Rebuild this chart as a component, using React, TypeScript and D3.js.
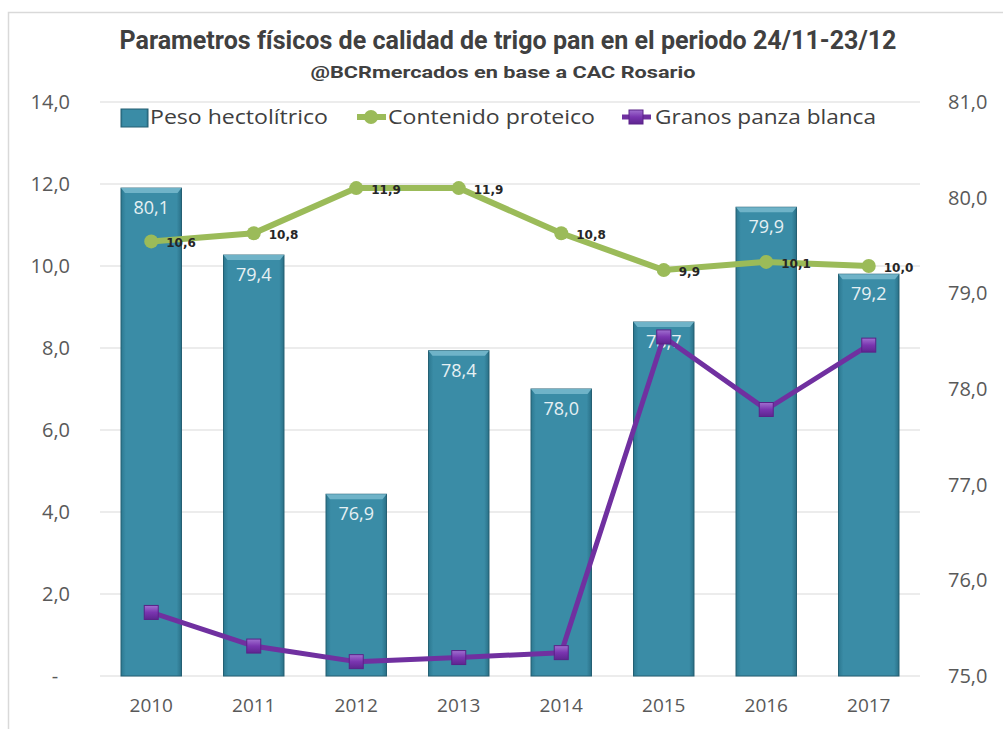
import React from "react";
import * as d3 from "d3";

const years = ["2010", "2011", "2012", "2013", "2014", "2015", "2016", "2017"];
const pesoHectolitrico = [80.1, 79.4, 76.9, 78.4, 78.0, 78.7, 79.9, 79.2];
const contenidoProteico = [10.6, 10.8, 11.9, 11.9, 10.8, 9.9, 10.1, 10.0];
const granosPanzaBlanca = [1.55, 0.73, 0.35, 0.45, 0.57, 8.27, 6.5, 8.07];
const leftTicks = [0, 2, 4, 6, 8, 10, 12, 14];
const rightTicks = [75, 76, 77, 78, 79, 80, 81];

const W = 1003;
const H = 729;
const plotLeft = 100;
const plotRight = 920;
const plotTop = 102;
const plotBottom = 676;

const fmt = (v: number) => d3.format(".1f")(v).replace(".", ",");

export default function App() {
  const x = d3
    .scaleBand<string>()
    .domain(years)
    .range([plotLeft, plotRight])
    .paddingInner(0.41)
    .paddingOuter(0.205);
  const yL = d3.scaleLinear().domain([0, 14]).range([plotBottom, plotTop]);
  const yR = d3.scaleLinear().domain([75, 81]).range([plotBottom, plotTop]);
  const cx = (y: string) => (x(y) as number) + x.bandwidth() / 2;

  const lineL = d3
    .line<number>()
    .x((_, i) => cx(years[i]))
    .y((d) => yL(d));

  const axisFont = "'Open Sans', 'DejaVu Sans', sans-serif";
  const textGray = "#595959";

  return (
    <svg
      width={W}
      height={H}
      viewBox={`0 0 ${W} ${H}`}
      style={{ position: "absolute", left: 0, top: 0, background: "#fff" }}
    >
      <defs>
        <linearGradient id="barGrad" x1="0" x2="1" y1="0" y2="0">
          <stop offset="0" stopColor="#2c7890" />
          <stop offset="0.08" stopColor="#3a8ca6" />
          <stop offset="0.92" stopColor="#3a8ca6" />
          <stop offset="1" stopColor="#2a7087" />
        </linearGradient>
        <linearGradient id="sqGrad" x1="0" x2="0" y1="0" y2="1">
          <stop offset="0" stopColor="#a070d0" />
          <stop offset="0.5" stopColor="#7a35b0" />
          <stop offset="1" stopColor="#5e2590" />
        </linearGradient>
      </defs>
      <rect x={0} y={0} width={W} height={H} fill="#fff" />
      <rect x={8.5} y={12.5} width={1000} height={730} fill="none" stroke="#d9d9d9" strokeWidth={1.5} />

      {/* Title */}
      <text
        x={508}
        y={49}
        textAnchor="middle"
        fontFamily="'Liberation Sans Narrow', 'Arial Narrow', 'Roboto', sans-serif"
        fontWeight="bold"
        fontSize={26}
        fill="#404040"
        textLength={777}
        lengthAdjust="spacingAndGlyphs"
      >
        Parametros físicos de calidad de trigo pan en el periodo 24/11-23/12
      </text>
      <text
        x={503}
        y={78}
        textAnchor="middle"
        fontFamily="'Liberation Sans Narrow', 'Arial Narrow', 'Roboto', sans-serif"
        fontWeight="bold"
        fontSize={17}
        fill="#404040"
        textLength={385}
        lengthAdjust="spacingAndGlyphs"
      >
        @BCRmercados en base a CAC Rosario
      </text>

      {/* Gridlines */}
      {leftTicks.map((t) => (
        <line
          key={"g" + t}
          x1={plotLeft}
          x2={plotRight}
          y1={yL(t)}
          y2={yL(t)}
          stroke="#d9d9d9"
          strokeWidth={1}
        />
      ))}

      {/* Left axis labels */}
      {leftTicks.map((t) => (
        <text
          key={"l" + t}
          x={t === 0 ? 55 : 70}
          y={yL(t) + 7}
          textAnchor={t === 0 ? "middle" : "end"}
          fontFamily={axisFont}
          fontSize={20}
          fill={textGray}
        >
          {t === 0 ? "-" : fmt(t)}
        </text>
      ))}

      {/* Right axis labels */}
      {rightTicks.map((t) => (
        <text
          key={"r" + t}
          x={948}
          y={yR(t) + 7}
          textAnchor="start"
          fontFamily={axisFont}
          fontSize={20}
          fill={textGray}
        >
          {fmt(t)}
        </text>
      ))}

      {/* X labels */}
      {years.map((y) => (
        <text
          key={"x" + y}
          x={cx(y)}
          y={712}
          textAnchor="middle"
          fontFamily={axisFont}
          fontSize={19}
          fill={textGray}
        >
          {y}
        </text>
      ))}

      {/* Bars */}
      {years.map((y, i) => {
        const bx = x(y) as number;
        const bw = x.bandwidth();
        const top = yR(pesoHectolitrico[i]);
        return (
          <g key={"b" + y}>
            <rect
              x={bx}
              y={top}
              width={bw}
              height={plotBottom - top}
              fill="url(#barGrad)"
              stroke="#245f72"
              strokeWidth={1}
            />
            <path
              d={`M${bx},${top} L${bx + bw},${top} L${bx + bw - 4},${top + 5} L${bx + 4},${top + 5} Z`}
              fill="#6fb3c8"
            />
            <text
              x={cx(y)}
              y={top + 26}
              textAnchor="middle"
              fontFamily={axisFont}
              fontSize={18}
              fill="#e6f0f3"
            >
              {fmt(pesoHectolitrico[i])}
            </text>
          </g>
        );
      })}

      {/* Green line */}
      <path
        d={lineL(contenidoProteico) || ""}
        fill="none"
        stroke="#9bbb59"
        strokeWidth={6}
        strokeLinejoin="round"
      />
      {contenidoProteico.map((v, i) => (
        <circle key={"gc" + i} cx={cx(years[i])} cy={yL(v)} r={7} fill="#9bbb59" />
      ))}
      {contenidoProteico.map((v, i) => (
        <text
          key={"gl" + i}
          x={cx(years[i]) + 15}
          y={yL(v) + 6}
          textAnchor="start"
          fontFamily="'DejaVu Sans', sans-serif"
          fontWeight="bold"
          fontSize={12}
          fill="#262626"
        >
          {fmt(v)}
        </text>
      ))}

      {/* Purple line */}
      <path
        d={lineL(granosPanzaBlanca) || ""}
        fill="none"
        stroke="#7030a0"
        strokeWidth={5}
        strokeLinejoin="round"
      />
      {granosPanzaBlanca.map((v, i) => (
        <rect
          key={"pm" + i}
          x={cx(years[i]) - 7}
          y={yL(v) - 7}
          width={14}
          height={14}
          fill="url(#sqGrad)"
          stroke="#5a2288"
          strokeWidth={1}
        />
      ))}

      {/* Legend */}
      <g fontFamily={axisFont} fontSize={20} fill="#404040">
        <rect x={121} y={109} width={27} height={18} fill="url(#barGrad)" stroke="#245f72" />
        <text x={150} y={124} textLength={178} lengthAdjust="spacingAndGlyphs">
          Peso hectolítrico
        </text>
        <line x1={357} x2={386} y1={117} y2={117} stroke="#9bbb59" strokeWidth={6} />
        <circle cx={371} cy={117} r={7} fill="#9bbb59" />
        <text x={388} y={124} textLength={207} lengthAdjust="spacingAndGlyphs">
          Contenido proteico
        </text>
        <line x1={622} x2={651} y1={117} y2={117} stroke="#7030a0" strokeWidth={5} />
        <rect x={629} y={110} width={14} height={14} fill="url(#sqGrad)" stroke="#5a2288" />
        <text x={655} y={124} textLength={221} lengthAdjust="spacingAndGlyphs">
          Granos panza blanca
        </text>
      </g>
    </svg>
  );
}
